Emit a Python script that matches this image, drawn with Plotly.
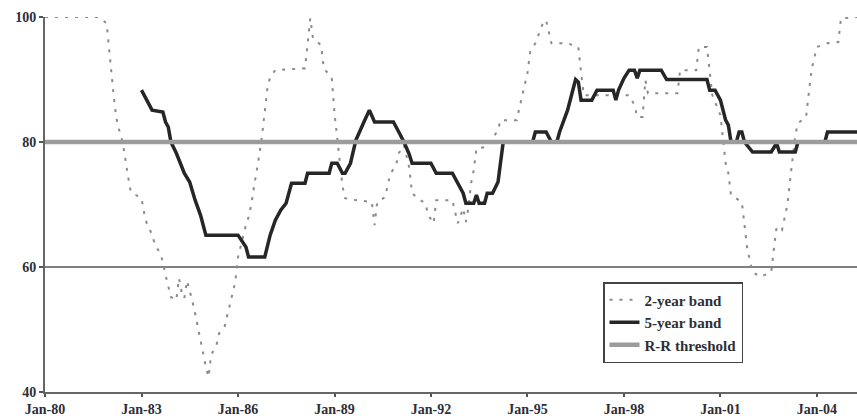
import plotly.graph_objects as go

# ---- data ----
two_year_dates = [
    "1980-01", "1981-09", "1981-12", "1982-01", "1982-02", "1982-03", "1982-04", "1982-06",
    "1982-07", "1982-08", "1982-09", "1983-01", "1983-02", "1983-03", "1983-05", "1983-06",
    "1983-08", "1983-09", "1983-10", "1983-11", "1983-12", "1984-02", "1984-03", "1984-04",
    "1984-05", "1984-06", "1984-07", "1984-08", "1984-09", "1984-10", "1984-11", "1984-12",
    "1985-01", "1985-02", "1985-03", "1985-05", "1985-06", "1985-08", "1985-09", "1985-10",
    "1985-11", "1985-12", "1986-01", "1986-02", "1986-04", "1986-05", "1986-06", "1986-07",
    "1986-08", "1986-09", "1986-10", "1986-11", "1986-12", "1987-01", "1987-03", "1988-02",
    "1988-03", "1988-04", "1988-05", "1988-08", "1988-09", "1988-12", "1989-01", "1989-02",
    "1989-03", "1989-04", "1989-05", "1989-09", "1990-03", "1990-04", "1990-05", "1990-08",
    "1990-09", "1990-10", "1990-12", "1991-01", "1991-03", "1991-05", "1991-06", "1991-09",
    "1991-11", "1991-12", "1992-02", "1992-03", "1992-09", "1992-10", "1992-11", "1993-01",
    "1993-02", "1993-03", "1993-04", "1993-05", "1993-06", "1993-10", "1994-02", "1994-03",
    "1994-09", "1994-10", "1994-11", "1994-12", "1995-01", "1995-02", "1995-04", "1995-07",
    "1995-08", "1995-09", "1995-10", "1996-04", "1996-08", "1996-09", "1996-10", "1998-03",
    "1998-05", "1998-06", "1998-08", "1998-09", "1998-10", "1999-09", "1999-10", "2000-04",
    "2000-05", "2000-08", "2000-09", "2000-10", "2001-01", "2001-02", "2001-03", "2001-04",
    "2001-05", "2001-09", "2001-10", "2001-11", "2001-12", "2002-01", "2002-04", "2002-08",
    "2002-09", "2002-10", "2002-12", "2003-01", "2003-02", "2003-03", "2003-04", "2003-05",
    "2003-06", "2003-09", "2003-10", "2003-11", "2004-01", "2004-05", "2004-09", "2004-10",
    "2005-04",
]
two_year_vals = [
    100, 100, 99, 95, 90, 86, 83, 80,
    77, 74.5, 72, 71, 68.6, 67, 65.2, 63.6,
    62.2, 60.8, 58.7, 57, 55.2, 54.7, 58.2, 56,
    55, 57.8, 56.3, 54.5, 52.6, 50.4, 48.6, 46,
    44, 42.4, 45.9, 47.5, 49.4, 50.4, 52.3, 54.2,
    55.8, 57.6, 61.6, 63.5, 66.7, 68, 70, 72.8,
    75.2, 78, 81, 85, 88.6, 90.4, 91.5, 91.8,
    95.8, 99.8, 96.6, 95.5, 91.8, 90.2, 84.6, 80.6,
    77.1, 73, 71, 70.7, 70.4, 66.7, 70.4, 71.2,
    73.4, 75, 76.3, 78.2, 79.5, 75.8, 71.8, 70.7,
    70.2, 68.3, 67, 70.7, 70.7, 68.8, 67, 69.4,
    67.2, 69.4, 73.4, 75.5, 79, 79.2, 81.9, 83.5,
    83.5, 85.4, 87.2, 89.1, 91, 94.4, 95.8, 99.2,
    99.5, 97.6, 95.8, 95.8, 95.2, 91.2, 87.5, 87.5,
    85.9, 84, 84, 89.9, 87.8, 87.8, 91.5, 91.5,
    95.2, 95.2, 91.2, 87.5, 84.3, 80, 76.6, 75,
    71.5, 70.4, 66.7, 63, 61.1, 59.2, 58.4, 59.2,
    63, 66.4, 65.9, 68, 70, 73.6, 77.1, 81.1,
    83, 84, 87.8, 91.5, 95.2, 95.8, 96, 99.8,
    100,
]

five_year_dates = [
    "1983-01", "1983-03", "1983-05", "1983-09", "1983-10", "1983-11", "1983-12", "1984-02",
    "1984-04", "1984-05", "1984-07", "1984-08", "1984-09", "1984-11", "1984-12", "1985-01",
    "1986-01", "1986-04", "1986-05", "1986-11", "1987-01", "1987-03", "1987-05", "1987-07",
    "1987-09", "1988-02", "1988-03", "1988-11", "1988-12", "1989-02", "1989-04", "1989-05",
    "1989-07", "1989-08", "1989-09", "1989-12", "1990-02", "1990-04", "1990-11", "1991-01",
    "1991-03", "1991-05", "1991-06", "1992-01", "1992-03", "1992-09", "1992-11", "1993-01",
    "1993-02", "1993-05", "1993-06", "1993-07", "1993-09", "1993-10", "1993-12", "1994-02",
    "1994-04", "1995-03", "1995-04", "1995-08", "1995-10", "1995-12", "1996-01", "1996-04",
    "1996-07", "1996-08", "1996-09", "1997-01", "1997-03", "1997-09", "1997-10", "1997-11",
    "1998-01", "1998-03", "1998-05", "1998-06", "1998-07", "1999-03", "1999-05", "2000-08",
    "2000-09", "2000-11", "2001-01", "2001-02", "2001-03", "2001-04", "2001-05", "2001-07",
    "2001-08", "2001-09", "2001-10", "2002-01", "2002-08", "2002-10", "2002-11", "2003-05",
    "2003-06", "2004-04", "2004-05", "2005-04",
]
five_year_vals = [
    88.3, 86.7, 85.1, 84.8, 83.2, 82.4, 80, 78.2,
    76, 75, 73.6, 72, 70.7, 68.3, 66.7, 65.1,
    65.1, 63.2, 61.6, 61.6, 65.1, 67.5, 69.1, 70.2,
    73.4, 73.4, 75, 75, 76.6, 76.6, 75, 75,
    76.6, 78.2, 80.3, 83.2, 85.1, 83.2, 83.2, 81.6,
    80, 78, 76.6, 76.6, 75, 75, 73.4, 71.8,
    70.2, 70.2, 71.5, 70.2, 70.2, 71.8, 71.8, 73.6,
    80, 80, 81.6, 81.6, 80, 80, 81.6, 85.1,
    90, 89.6, 86.7, 86.7, 88.3, 88.3, 86.7, 88.3,
    90.2, 91.5, 91.5, 90.2, 91.5, 91.5, 90, 90,
    88.3, 88.3, 86.7, 85.1, 83.5, 82.7, 80, 80,
    81.6, 81.6, 80, 78.4, 78.4, 79.8, 78.4, 78.4,
    80, 80, 81.6, 81.6,
]

threshold_dates = ["1980-01", "2005-04"]
threshold_vals = [80, 80]

x_tick_dates = ["1980-01-01", "1983-01-01", "1986-01-01", "1989-01-01", "1992-01-01",
                "1995-01-01", "1998-01-01", "2001-01-01", "2004-01-01"]
x_tick_labels = ["Jan-80", "Jan-83", "Jan-86", "Jan-89", "Jan-92",
                 "Jan-95", "Jan-98", "Jan-01", "Jan-04"]
y_tick_vals = [40, 60, 80, 100]

FONT = "Liberation Serif"
TXT = "#2e2e36"

fig = go.Figure()
fig.add_trace(go.Scatter(
    x=two_year_dates, y=two_year_vals, mode="lines", name="2-year band",
    line=dict(color="#8a8a8a", width=2, dash="3px,7px"), legendgroup="a",
))
fig.add_trace(go.Scatter(
    x=five_year_dates, y=five_year_vals, mode="lines", name="5-year band",
    line=dict(color="#262626", width=3.5), legendgroup="b",
))
fig.add_trace(go.Scatter(
    x=threshold_dates, y=threshold_vals, mode="lines", name="R-R threshold",
    line=dict(color="#9c9c9c", width=4.5), legendgroup="c",
))

fig.update_layout(
    width=857, height=416,
    margin=dict(l=45, r=0, t=17, b=24, autoexpand=False),
    paper_bgcolor="white", plot_bgcolor="white",
    font=dict(family=FONT, size=14, color=TXT, weight="bold"),
    showlegend=True,
    legend=dict(
        x=(603 - 45) / 812, y=(392 - 282) / 375, xanchor="left", yanchor="top",
        bgcolor="white", bordercolor="#444", borderwidth=1.5,
        font=dict(family=FONT, size=15, color=TXT, weight="bold"),
        tracegroupgap=5, traceorder="normal",
    ),
    xaxis=dict(
        type="date", range=["1980-01-01", "2005-04-01"],
        tickvals=x_tick_dates, ticktext=x_tick_labels,
        showgrid=False, zeroline=False, automargin=False,
        showline=True, linecolor="#666", linewidth=2,
        ticks="outside", ticklen=3, tickwidth=1.5, tickcolor="#555",
    ),
    yaxis=dict(
        range=[40, 100], tickvals=y_tick_vals, automargin=False,
        showgrid=True, gridcolor="#808080", gridwidth=1.5,
        zeroline=False,
        showline=True, linecolor="#666", linewidth=2,
        ticks="outside", ticklen=4, tickwidth=1.5, tickcolor="#555",
    ),
)

fig.write_html(
    "out.html",
    config={"displayModeBar": False},
    post_script="document.body.style.margin='0';document.body.style.padding='0';",
)
